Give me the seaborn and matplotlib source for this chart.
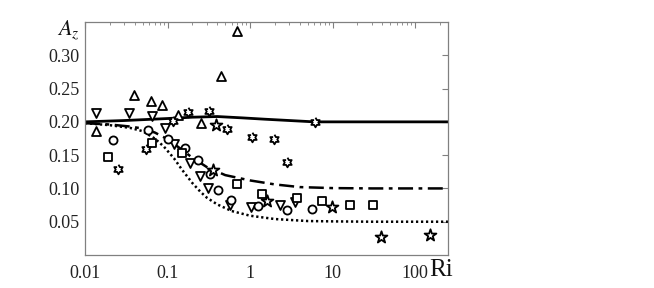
import numpy as np
import pandas as pd
import matplotlib
matplotlib.use("Agg")
import matplotlib.pyplot as plt
import seaborn as sns

sns.set_theme(style="white")
plt.rcParams["font.family"] = ["Liberation Serif", "DejaVu Serif"]
plt.rcParams["mathtext.fontset"] = "stix"


# --------------------------------------------------
# Data
# --------------------------------------------------

tri_up_ri = [0.0136, 0.039, 0.063, 0.086, 0.134, 0.255, 0.445, 0.695]
tri_up_az = [0.186, 0.240, 0.231, 0.225, 0.210, 0.198, 0.269, 0.336]

tri_down_ri = [0.0136, 0.034, 0.065, 0.093, 0.120, 0.187, 0.248, 0.31, 0.573, 1.03, 2.31, 3.5]
tri_down_az = [0.213, 0.213, 0.209, 0.191, 0.167, 0.138, 0.119, 0.101, 0.075, 0.072, 0.075, 0.080]

circle_ri = [0.0219, 0.058, 0.101, 0.163, 0.234, 0.327, 0.41, 0.589, 1.25, 2.8, 5.65]
circle_az = [0.173, 0.188, 0.174, 0.161, 0.143, 0.122, 0.098, 0.083, 0.074, 0.068, 0.069]

square_ri = [0.019, 0.065, 0.150, 0.695, 1.4, 3.7, 7.5, 16.3, 31.0]
square_az = [0.147, 0.168, 0.153, 0.107, 0.092, 0.086, 0.081, 0.075, 0.075]

hexstar_ri = [0.0251, 0.055, 0.117, 0.177, 0.318, 0.526, 1.06, 1.95, 2.8, 6.1]
hexstar_az = [0.129, 0.159, 0.201, 0.215, 0.216, 0.189, 0.177, 0.174, 0.140, 0.200]

star_ri = [0.356, 0.387, 1.61, 9.87, 38.7, 151.0]
star_az = [0.128, 0.195, 0.081, 0.072, 0.027, 0.030]

solid_ri = [0.01, 0.03, 0.1, 0.2, 0.4, 0.8, 1.5, 3, 6, 20, 250]
solid_az = [0.200, 0.202, 0.205, 0.207, 0.208, 0.206, 0.204, 0.202, 0.200, 0.200, 0.200]

dashdot_ri = [0.01, 0.02, 0.035, 0.05, 0.07, 0.1, 0.15, 0.2, 0.3, 0.5, 1, 2, 4, 10, 30, 250]
dashdot_az = [0.198, 0.196, 0.193, 0.190, 0.184, 0.174, 0.158, 0.146, 0.132, 0.120,
              0.112, 0.106, 0.102, 0.1005, 0.100, 0.100]

dotted_ri = [0.01, 0.02, 0.035, 0.05, 0.07, 0.09, 0.12, 0.15, 0.2, 0.25, 0.3, 0.4,
             0.6, 1, 2, 5, 10, 30, 250]
dotted_az = [0.198, 0.195, 0.191, 0.186, 0.175, 0.163, 0.145, 0.128, 0.108, 0.095,
             0.086, 0.076, 0.066, 0.059, 0.054, 0.051, 0.0505, 0.050, 0.050]

y_ticks = [0.05, 0.10, 0.15, 0.20, 0.25, 0.30]
y_tick_labels = ["0.05", "0.10", "0.15", "0.20", "0.25", "0.30"]
x_ticks = [0.01, 0.1, 1, 10, 100]
x_tick_labels = ["0.01", "0.1", "1", "10", "100"]


# --------------------------------------------------
# Figure
# --------------------------------------------------

fig = plt.figure(figsize=(6.54, 2.88), dpi=100)
ax = fig.add_axes([0.130, 0.1146, 0.555, 0.809])

# model curves
sns.lineplot(x=solid_ri, y=solid_az, ax=ax, color="black", lw=2.0, linestyle="-")
sns.lineplot(x=dashdot_ri, y=dashdot_az, ax=ax, color="black", lw=1.8,
             linestyle=(0, (6, 2.2, 1.5, 2.2)))
sns.lineplot(x=dotted_ri, y=dotted_az, ax=ax, color="black", lw=1.8,
             linestyle=(0, (0.9, 1.1)))

# measurements
hexagram = [(np.sin(a) * r, np.cos(a) * r)
            for a, r in zip(np.linspace(0, 2 * np.pi, 13)[:-1], [1, 0.577] * 6)]

groups = [
    (tri_up_ri, tri_up_az, "^", 42),
    (tri_down_ri, tri_down_az, "v", 42),
    (circle_ri, circle_az, "o", 34),
    (square_ri, square_az, "s", 26),
    (hexstar_ri, hexstar_az, hexagram, 48),
    (star_ri, star_az, "*", 80),
]

for ri, az, marker, size in groups:
    sns.scatterplot(x=ri, y=az, ax=ax, marker=marker, s=size,
                    facecolor="white", edgecolor="black", linewidth=1.3, zorder=3)

ax.set_xscale("log")
ax.set_xlim(0.01, 250)
ax.set_ylim(0, 0.35)

ax.set_xticks(x_ticks)
ax.set_xticklabels(x_tick_labels)
ax.set_yticks(y_ticks)
ax.set_yticklabels(y_tick_labels)

ax.tick_params(axis="both", which="both", direction="in", top=True, right=True,
               color="#808080", labelsize=13, labelcolor="#222222")
ax.tick_params(axis="both", which="major", length=4, width=0.8)
ax.tick_params(axis="x", which="minor", length=2.5, width=0.6)
ax.tick_params(axis="x", which="major", pad=7)
ax.tick_params(axis="y", which="major", pad=4)

for spine in ax.spines.values():
    spine.set_color("#808080")
    spine.set_linewidth(0.9)

ax.set_xlabel("")
ax.set_ylabel("")

fig.text(0.105, 0.895, "$A_z$", fontsize=16, ha="center", va="center", color="#111111")
fig.text(0.674, 0.062, "Ri", fontsize=18, ha="center", va="center", color="#111111")

plt.savefig("out.png", dpi=100)
plt.close()
